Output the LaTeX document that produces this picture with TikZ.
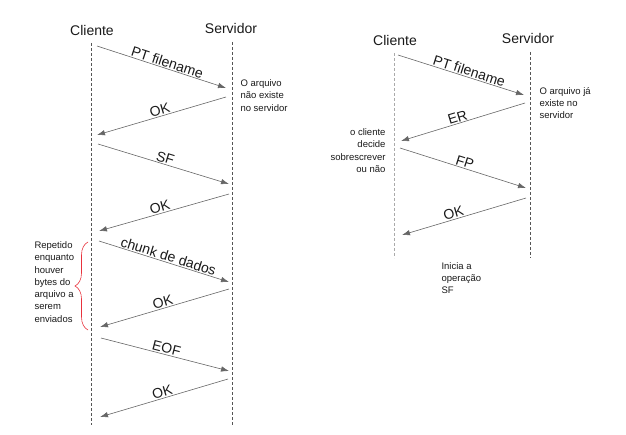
\documentclass[tikz,border=0pt]{standalone}
\usepackage{fontspec}
\setmainfont{Liberation Sans}
\usetikzlibrary{arrows.meta,decorations.pathreplacing}

\definecolor{msggray}{HTML}{666666}
\definecolor{linegray}{HTML}{555555}
\definecolor{lightline}{HTML}{AAAAAA}
\definecolor{bracered}{HTML}{E8323C}

\begin{document}
\begin{tikzpicture}[x=1pt, y=-1pt,
  every node/.style={align=left, text=black!90},
  title/.style={font=\fontsize{14}{16}\selectfont},
  note/.style={font=\fontsize{9.5}{12.3}\selectfont},
  lifeline/.style={draw=linegray, dash pattern=on 3pt off 2pt, line width=0.7pt},
  msg/.style={draw=msggray, line width=0.6pt, -{Latex[length=8pt,width=5.5pt]}},
  msglabel/.style={font=\fontsize{14}{16}\selectfont, sloped, above, inner sep=1pt}]
  \useasboundingbox (0,0) rectangle (626,435);

  % left diagram
  \node[title] (cli1) at (92,31) {Cliente};
  \node[title] (srv1) at (231,29) {Servidor};
  \draw[lifeline] (91,43) -- (91,425);
  \draw[lifeline] (232,42) -- (232,425);

  \coordinate (a1) at (97,46);   \coordinate (b1) at (226,88);
  \coordinate (a2) at (226,97);  \coordinate (b2) at (97,135);
  \coordinate (a3) at (98,144);  \coordinate (b3) at (229,184);
  \coordinate (a4) at (229,194); \coordinate (b4) at (99,231);
  \coordinate (a5) at (99,241);  \coordinate (b5) at (229,282);
  \coordinate (a6) at (229,289); \coordinate (b6) at (100,327);
  \coordinate (a7) at (101,338); \coordinate (b7) at (229,371);
  \coordinate (a8) at (228,379); \coordinate (b8) at (100,417);

  \draw[msg] (a1) -- node[msglabel, pos=0.53] {PT filename} (b1);
  \draw[msg] (a2) -- node[msglabel] {OK} (b2);
  \draw[msg] (a3) -- node[msglabel] {SF} (b3);
  \draw[msg] (a4) -- node[msglabel, pos=0.52] {OK} (b4);
  \draw[msg] (a5) -- node[msglabel, pos=0.52] {chunk de dados} (b5);
  \draw[msg] (a6) -- node[msglabel] {OK} (b6);
  \draw[msg] (a7) -- node[msglabel] {EOF} (b7);
  \draw[msg] (a8) -- node[msglabel] {OK} (b8);

  \node[note, anchor=west] (nao) at (237,95.5)
    {O arquivo\\não existe\\no servidor};
  \draw[draw=bracered, line width=0.6pt,
        decorate, decoration={brace, amplitude=13pt}]
    (88,330) -- (88,242);
  \node[note, anchor=west] (rep) at (31,282)
    {Repetido\\enquanto\\houver\\bytes do\\arquivo a\\serem\\enviados};

  % right diagram
  \node[title] (cli2) at (395,41) {Cliente};
  \node[title] (srv2) at (528,39) {Servidor};
  \draw[lifeline, draw=lightline] (394,53) -- (394,258);
  \draw[lifeline] (530,52) -- (530,258);

  \coordinate (c1) at (398,55);  \coordinate (d1) at (524,95);
  \coordinate (c2) at (525,103); \coordinate (d2) at (401,141);
  \coordinate (c3) at (400,148); \coordinate (d3) at (526,188);
  \coordinate (c4) at (526,198); \coordinate (d4) at (402,235);

  \draw[msg] (c1) -- node[msglabel, pos=0.55] {PT filename} (d1);
  \draw[msg] (c2) -- node[msglabel, pos=0.53] {ER} (d2);
  \draw[msg] (c3) -- node[msglabel] {FP} (d3);
  \draw[msg] (c4) -- node[msglabel, pos=0.57] {OK} (d4);

  \node[note, anchor=west] (ja) at (536,103)
    {O arquivo já\\existe no\\servidor};
  \node[note, anchor=east, align=right] (decide) at (389,150.5)
    {o cliente\\decide\\sobrescrever\\ou não};
  \node[note, anchor=west] (inicia) at (438,278)
    {Inicia a\\operação\\SF};
\end{tikzpicture}
\end{document}
